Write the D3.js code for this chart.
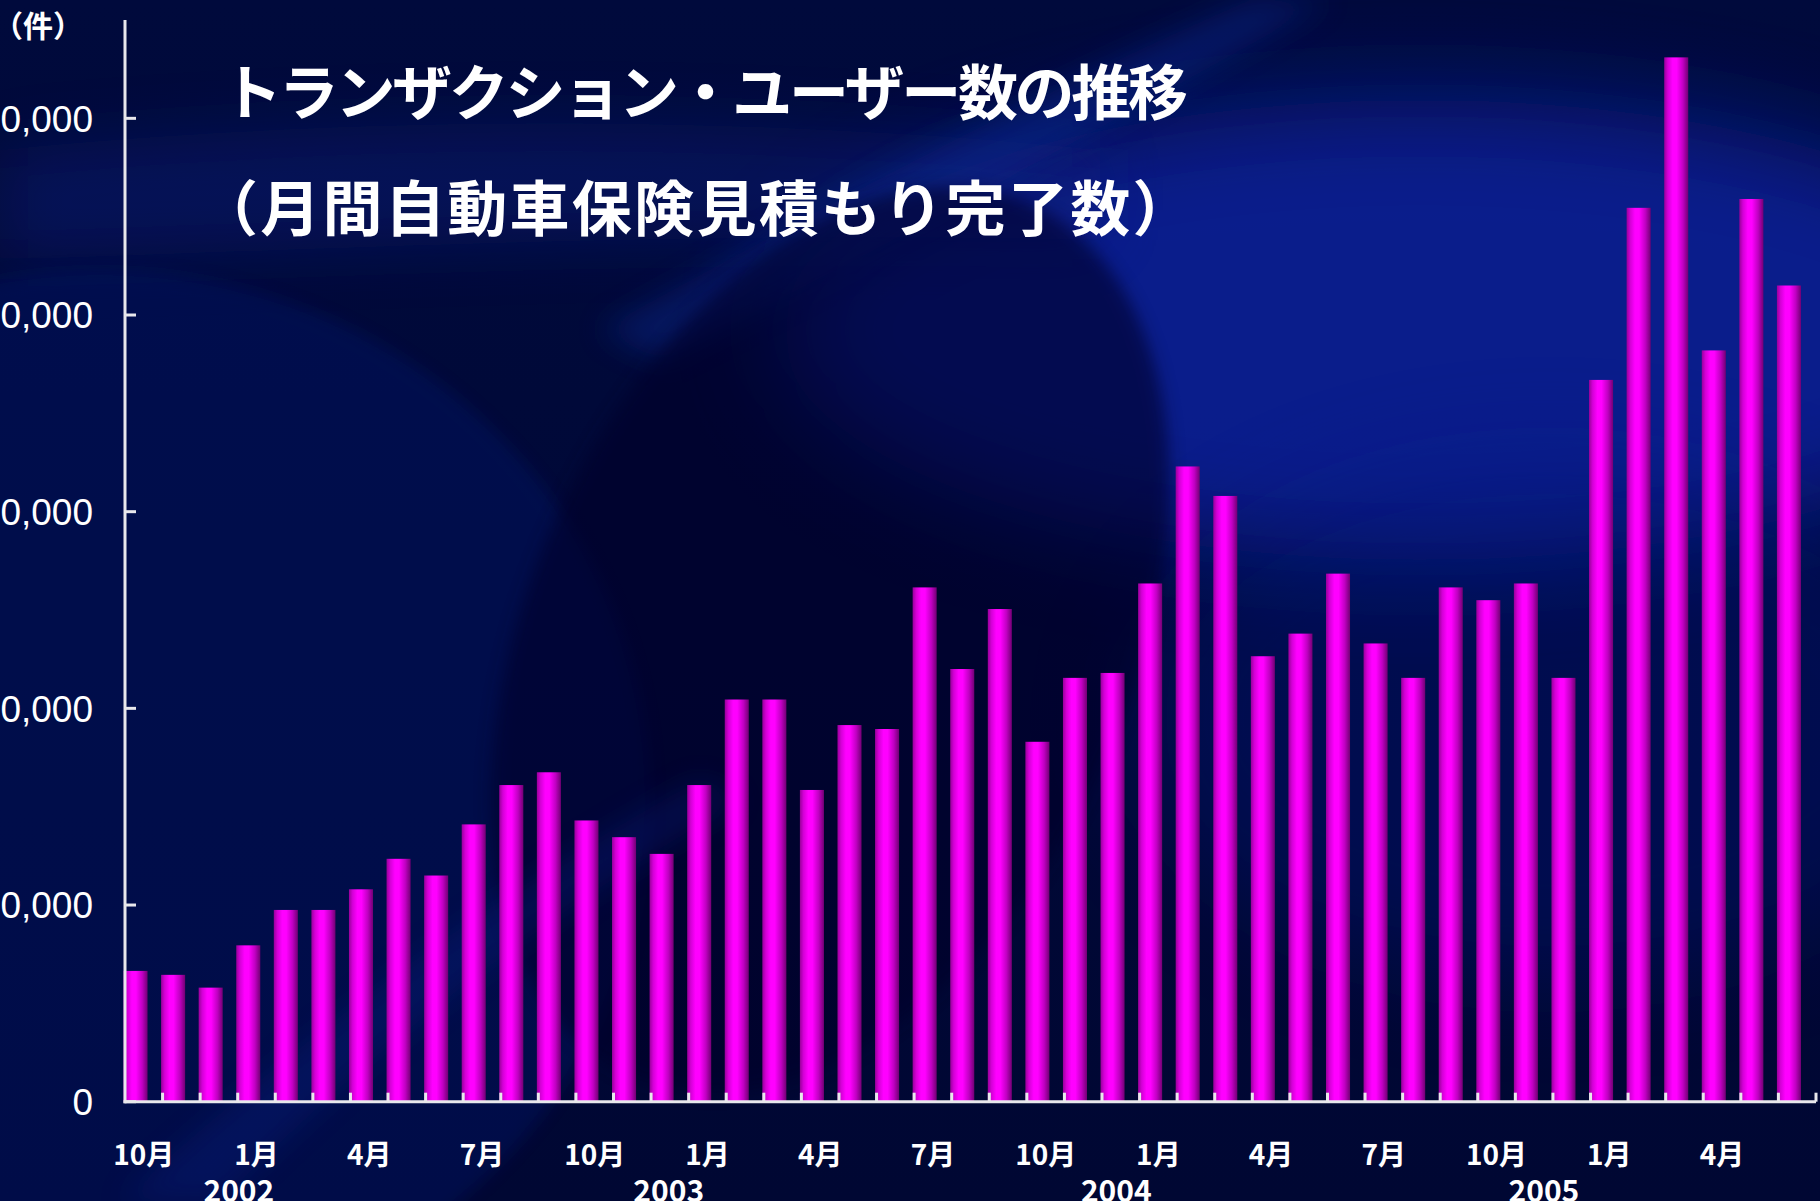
<!DOCTYPE html>
<html>
<head>
<meta charset="utf-8">
<script src="https://cdn.jsdelivr.net/npm/d3@7"></script>
<style>
  html, body { margin: 0; padding: 0; background: #000a3a; overflow: hidden; }
  svg { display: block; }
</style>
</head>
<body>
<svg id="chart" width="1820" height="1201"></svg>
<script>
// Monthly completed auto-insurance quotes, Oct 2001 – Jun 2005
const months = [
  "2001-10","2001-11","2001-12",
  "2002-01","2002-02","2002-03","2002-04","2002-05","2002-06","2002-07","2002-08","2002-09","2002-10","2002-11","2002-12",
  "2003-01","2003-02","2003-03","2003-04","2003-05","2003-06","2003-07","2003-08","2003-09","2003-10","2003-11","2003-12",
  "2004-01","2004-02","2004-03","2004-04","2004-05","2004-06","2004-07","2004-08","2004-09","2004-10","2004-11","2004-12",
  "2005-01","2005-02","2005-03","2005-04","2005-05","2005-06"
];
const counts = [
  6650, 6450, 5800,
  7950, 9750, 9750, 10800, 12350, 11500, 14100, 16100, 16750, 14300, 13450, 12600,
  16100, 20450, 20450, 15850, 19150, 18950, 26150, 22000, 25050, 18300, 21550, 21800,
  26350, 32300, 30800, 22650, 23800, 26850, 23300, 21550, 26150, 25500, 26350, 21550,
  36700, 45450, 53100, 38200, 45900, 41500
];
const labelledMonths = [
  "2001-10","2002-01","2002-04","2002-07","2002-10","2003-01","2003-04","2003-07",
  "2003-10","2004-01","2004-04","2004-07","2004-10","2005-01","2005-04"
];
const yearLabels = ["2002", "2003", "2004", "2005"];
const yearLabelSlots = [3.03, 14.47, 26.38, 37.76];   // position in month slots
const yTicks = [0, 10000, 20000, 30000, 40000, 50000];
const titleLines = ["トランザクション・ユーザー数の推移", "（月間自動車保険見積もり完了数）"];
const unitLabel = "（件）";

const W = 1820, H = 1201;
const svg = d3.select("#chart");
const defs = svg.append("defs");

// ---------- background ----------
const blur = (id, s) => defs.append("filter").attr("id", id)
  .attr("x", "-50%").attr("y", "-50%").attr("width", "200%").attr("height", "200%")
  .append("feGaussianBlur").attr("stdDeviation", s);
blur("b8", 8); blur("b15", 15); blur("b30", 30); blur("b50", 50);

const bgGrad = defs.append("linearGradient").attr("id", "bgGrad")
  .attr("x1", 0).attr("y1", 0).attr("x2", 0).attr("y2", 1);
bgGrad.append("stop").attr("offset", 0).attr("stop-color", "#000a3c");
bgGrad.append("stop").attr("offset", 1).attr("stop-color", "#000733");

const bg = svg.append("g");
bg.append("rect").attr("width", W).attr("height", H).attr("fill", "url(#bgGrad)");
// bright blue wash on the right
bg.append("ellipse").attr("cx", 1420).attr("cy", 330).attr("rx", 640).attr("ry", 230)
  .attr("fill", "#0a24a0").attr("opacity", 0.8).attr("filter", "url(#b50)");
bg.append("ellipse").attr("cx", 1550).attr("cy", 720).attr("rx", 420).attr("ry", 260)
  .attr("fill", "#05187e").attr("opacity", 0.35).attr("filter", "url(#b50)");
// upper ribbon
bg.append("path").attr("d", "M0,150 C300,120 700,110 1100,150 L1100,240 C700,230 300,250 0,260 Z")
  .attr("fill", "#0a1f78").attr("opacity", 0.45).attr("filter", "url(#b30)");
// diagonal streak behind the title
bg.append("path").attr("d", "M600,330 C800,220 1000,110 1250,0 L1330,0 C1080,140 860,260 660,360 Z")
  .attr("fill", "#0c2a95").attr("opacity", 0.4).attr("filter", "url(#b15)");
// large left lobe
bg.append("ellipse").attr("cx", 100).attr("cy", 800).attr("rx", 550).attr("ry", 530)
  .attr("fill", "#04196c").attr("opacity", 0.38).attr("filter", "url(#b8)");
// dark oval in the middle
bg.append("ellipse").attr("cx", 830).attr("cy", 640).attr("rx", 300).attr("ry", 480)
  .attr("transform", "rotate(25 830 640)")
  .attr("fill", "#00042a").attr("opacity", 0.6).attr("filter", "url(#b8)");
// lower-left diagonal band
bg.append("path").attr("d", "M120,1201 C300,1040 480,900 700,780 L740,800 C520,930 360,1060 220,1201 Z")
  .attr("fill", "#0a2288").attr("opacity", 0.3).attr("filter", "url(#b15)");

// ---------- scales ----------
const x = d3.scaleBand().domain(months).range([125, 1816]).paddingInner(0).paddingOuter(0);
const slot = d3.scaleLinear().domain([0, months.length]).range(x.range());
const y = d3.scaleLinear().domain([0, 55000]).range([1101.7, 20]);

// ---------- bars ----------
const barGrad = defs.append("linearGradient").attr("id", "barGrad")
  .attr("x1", 0).attr("y1", 0).attr("x2", 1).attr("y2", 0);
[[0, "#98009a"], [0.15, "#d400d6"], [0.35, "#ff00ff"], [0.52, "#ff00ff"], [0.78, "#c000c2"], [1, "#720074"]]
  .forEach(([o, c]) => barGrad.append("stop").attr("offset", o).attr("stop-color", c));

const barW = x.bandwidth() * 0.64;
svg.append("g").selectAll("rect").data(months).join("rect")
  .attr("x", d => x(d) - 1.5)
  .attr("width", barW)
  .attr("y", (d, i) => y(counts[i]))
  .attr("height", (d, i) => y(0) - y(counts[i]))
  .attr("fill", "url(#barGrad)");

// ---------- axes ----------
const axisColor = "#e8e8ec";
const axes = svg.append("g").attr("stroke", axisColor).attr("stroke-width", 3).attr("fill", "none");
axes.append("line").attr("x1", x.range()[0]).attr("x2", x.range()[0]).attr("y1", y.range()[1]).attr("y2", y(0) + 1.5);
axes.append("line").attr("x1", x.range()[0] - 1.5).attr("x2", x.range()[1]).attr("y1", y(0)).attr("y2", y(0));
// y ticks point inward
axes.selectAll(".yt").data(yTicks).join("line").attr("class", "yt")
  .attr("x1", x.range()[0]).attr("x2", x.range()[0] + 11)
  .attr("y1", d => y(d)).attr("y2", d => y(d));
// x ticks at category boundaries, pointing up
const boundaries = months.slice(1).map(m => x(m)).concat([x.range()[1]]);
axes.selectAll(".xt").data(boundaries).join("line").attr("class", "xt")
  .attr("x1", d => d).attr("x2", d => d)
  .attr("y1", y(0)).attr("y2", y(0) - 9);

// y tick labels (the plot sits close to the left edge, so leading digits run off it)
svg.append("g").selectAll("text").data(yTicks).join("text")
  .attr("x", 93).attr("y", d => y(d))
  .attr("dy", "0.36em")
  .attr("text-anchor", "end")
  .attr("fill", "#ffffff")
  .attr("font-family", "'Liberation Sans', Arial, sans-serif")
  .attr("font-size", 37)
  .text(d => d3.format(",")(d));

const cjk = "'Noto Sans CJK JP', sans-serif";

// unit label
svg.append("text").attr("x", -7).attr("y", 37)
  .attr("fill", "#ffffff")
  .attr("font-family", cjk)
  .attr("font-weight", 700).attr("font-size", 30)
  .text(unitLabel);

// month labels
svg.append("g").selectAll("text").data(labelledMonths).join("text")
  .attr("x", d => x(d) + x.bandwidth() / 2)
  .attr("y", 1165)
  .attr("text-anchor", "middle")
  .attr("fill", "#ffffff")
  .attr("font-family", cjk).attr("font-weight", 700).attr("font-size", 28)
  .text(d => (+d.split("-")[1]) + "月");

// year labels
svg.append("g").selectAll("text").data(yearLabels).join("text")
  .attr("x", (d, i) => slot(yearLabelSlots[i]))
  .attr("y", 1202)
  .attr("text-anchor", "middle")
  .attr("fill", "#ffffff")
  .attr("font-family", cjk).attr("font-weight", 700).attr("font-size", 30)
  .text(d => d);

// title
const title = svg.append("g").attr("fill", "#ffffff")
  .attr("font-family", cjk).attr("font-weight", 700).attr("font-size", 60);
title.append("text").attr("x", 222).attr("y", 115)
  .attr("letter-spacing", -3.3)
  .text(titleLines[0]);
title.append("text").attr("x", 198).attr("y", 231)
  .attr("letter-spacing", 2.3)
  .text(titleLines[1]);
</script>
</body>
</html>
